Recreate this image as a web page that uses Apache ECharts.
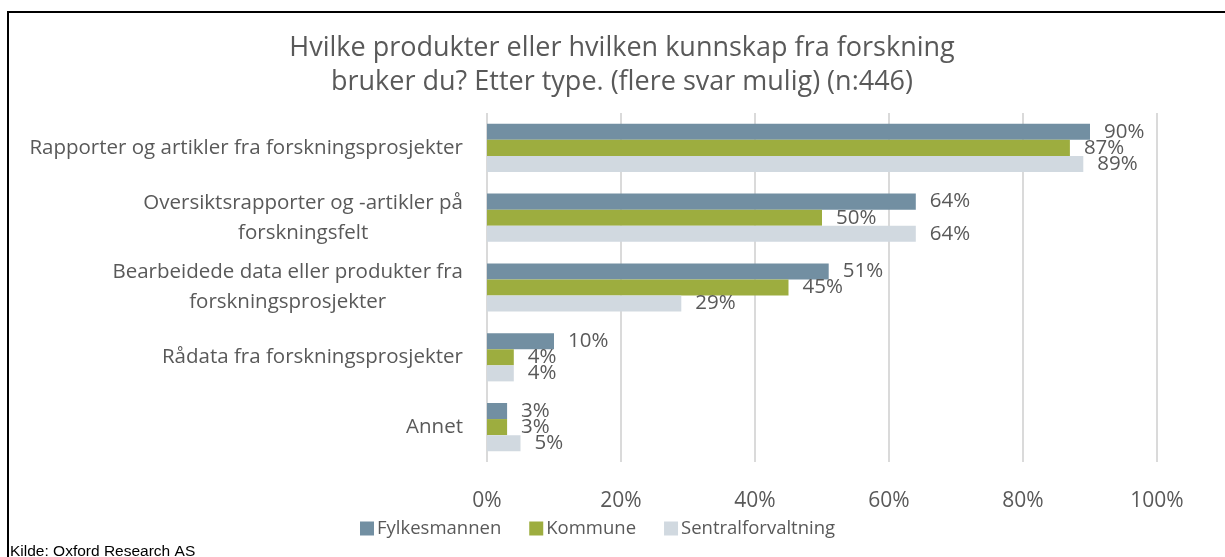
<!DOCTYPE html>
<html lang="no">
<head>
    <meta charset="utf-8">
    <title>Hvilke produkter eller hvilken kunnskap fra forskning bruker du?</title>
    <script src="https://cdn.jsdelivr.net/npm/echarts@6/dist/echarts.min.js"></script>
    <style>
        html, body { margin: 0; padding: 0; background: #fff; }
        #frame {
            position: absolute; left: 7px; top: 11px; right: 0; bottom: 0;
            border-left: 2px solid #000; border-top: 2px solid #000;
        }
        #chart { position: absolute; left: 0; top: 0; width: 1225px; height: 557px; }
    </style>
</head>
<body>
    <div id="frame"></div>
    <div id="chart"></div>

<script type="text/javascript">
    // kategorier (fra topp til bunn)
    const categories = [
        'Rapporter og artikler fra forskningsprosjekter',
        'Oversiktsrapporter og -artikler på\nforskningsfelt',
        'Bearbeidede data eller produkter fra\nforskningsprosjekter',
        'Rådata fra forskningsprosjekter',
        'Annet'
    ];
    const seriesNames = ['Fylkesmannen', 'Kommune', 'Sentralforvaltning'];
    const fylkesmannen = [90, 64, 51, 10, 3];
    const kommune = [87, 50, 45, 4, 3];
    const sentralforvaltning = [89, 64, 29, 4, 5];
    const xTicks = [0, 20, 40, 60, 80, 100];

    const colors = ['#728FA2', '#9DAD3F', '#D1D9E0'];
    const font = '"Open Sans", sans-serif';
    const textColor = '#595959';

    function makeSeries(name, data, color) {
        return {
            name: name,
            type: 'bar',
            data: data,
            barGap: '0%',
            barCategoryGap: '31%',
            itemStyle: { color: color },
            label: {
                show: true,
                position: 'right',
                distance: 14,
                formatter: p => p.value + '%',
                color: textColor,
                fontFamily: font,
                fontSize: 20.5
            }
        };
    }

    const chart = echarts.init(document.getElementById('chart'));
    chart.setOption({
        animation: false,
        title: {
            text: 'Hvilke produkter eller hvilken kunnskap fra forskning\nbruker du? Etter type. (flere svar mulig) (n:446)',
            left: 617,
            textAlign: 'center',
            top: 26,
            textStyle: {
                color: textColor,
                fontFamily: font,
                fontWeight: 'normal',
                fontSize: 27,
                lineHeight: 34
            }
        },
        legend: {
            data: seriesNames,
            top: 514,
            left: 355,
            icon: 'rect',
            itemWidth: 14,
            itemHeight: 14,
            itemGap: 28,
            textStyle: { color: textColor, fontFamily: font, fontSize: 18.5, padding: [0, 0, 0, -2] }
        },
        grid: { left: 487, right: 68, top: 113, bottom: 95 },
        xAxis: {
            type: 'value',
            min: xTicks[0],
            max: xTicks[xTicks.length - 1],
            interval: 20,
            axisLine: { show: false },
            axisTick: { show: false },
            splitLine: { lineStyle: { color: '#DADADA', width: 2 } },
            axisLabel: {
                formatter: v => v + '%',
                color: textColor,
                fontFamily: font,
                fontSize: 21,
                margin: 29
            }
        },
        yAxis: {
            type: 'category',
            data: categories,
            inverse: true,
            axisLine: { show: false },
            axisTick: { show: false },
            axisLabel: {
                color: textColor,
                fontFamily: font,
                fontSize: 20.5,
                lineHeight: 30,
                margin: 24,
                align: 'right',
                // linjene sentreres mot hverandre, blokken høyrejusteres
                formatter: v => v.split('\n').map(s => '{c|' + s + '}').join('\n'),
                rich: {
                    c: {
                        align: 'center',
                        color: textColor,
                        fontFamily: font,
                        fontSize: 20.5,
                        lineHeight: 30
                    }
                }
            }
        },
        graphic: [{
            type: 'text',
            left: 10,
            top: 544,
            style: {
                text: 'Kilde: Oxford Research AS',
                fill: '#000',
                font: '15.5px "Liberation Sans", Arial, sans-serif'
            }
        }],
        series: [
            makeSeries(seriesNames[0], fylkesmannen, colors[0]),
            makeSeries(seriesNames[1], kommune, colors[1]),
            makeSeries(seriesNames[2], sentralforvaltning, colors[2])
        ]
    });
</script>
</body>
</html>
